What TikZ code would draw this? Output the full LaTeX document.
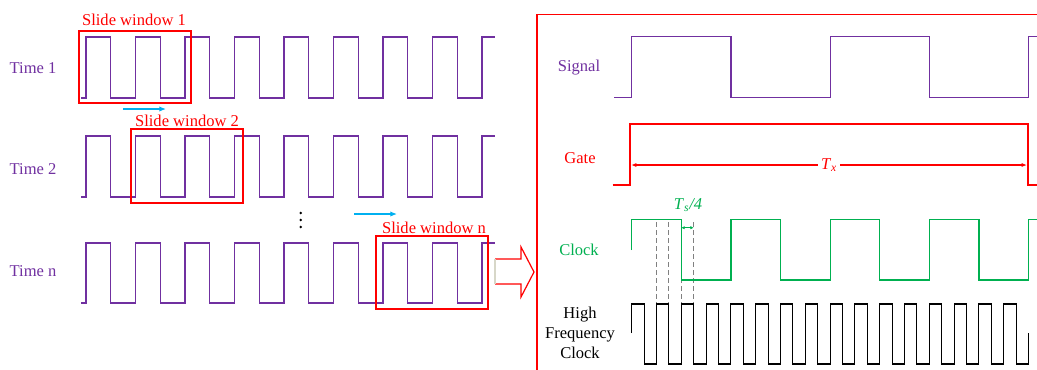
\documentclass[tikz,border=0pt]{standalone}
\usepackage{fontspec}
\setmainfont{Liberation Serif}
\usetikzlibrary{arrows.meta}
\definecolor{wpurple}{RGB}{112,48,160}
\definecolor{wred}{RGB}{255,0,0}
\definecolor{wgreen}{RGB}{0,176,80}
\definecolor{wblue}{RGB}{0,176,240}
\definecolor{wgray}{RGB}{128,128,128}
\definecolor{wbeige}{RGB}{215,215,200}
\tikzset{
  wave/.style={line width=0.9pt, line join=miter},
  lbl/.style={font=\fontsize{12.4}{15}\selectfont, inner sep=1pt, align=center},
  winbox/.style={draw=wred, line width=0.9pt},
  shiftarrow/.style={wblue, line width=0.9pt, -{Latex[length=5pt,width=4pt]}},
  dimarrow/.style={line width=0.8pt, {Latex[length=4pt,width=3pt]}-{Latex[length=4pt,width=3pt]}},
  guide/.style={wgray, line width=0.8pt, dash pattern=on 4pt off 2pt},
}
\begin{document}
\begin{tikzpicture}[x=0.75pt,y=-0.75pt]
\useasboundingbox (0,0) rectangle (1037,369);

% ---------- left panel ----------
\node[lbl, text=wpurple] (t1) at (33,68) {Time 1};
\node[lbl, text=wpurple] (t2) at (33,169) {Time 2};
\node[lbl, text=wpurple] (tn) at (33,271) {Time n};

\draw[wave, wpurple] (81,98) -- (86,98)
  foreach \k in {1,...,8} { -- ++(0,-61) -- ++(24.75,0) -- ++(0,61) -- ++(24.75,0) }
  -- ++(0,-61) -- (495,37);
\draw[wave, wpurple] (81,197) -- (86,197)
  foreach \k in {1,...,8} { -- ++(0,-61) -- ++(24.75,0) -- ++(0,61) -- ++(24.75,0) }
  -- ++(0,-61) -- (495,136);
\draw[wave, wpurple] (81,303) -- (86,303)
  foreach \k in {1,...,8} { -- ++(0,-60) -- ++(24.75,0) -- ++(0,60) -- ++(24.75,0) }
  -- ++(0,-60) -- (495,243);

\draw[winbox] (79,31) rectangle (191,103);
\node[lbl, text=wred] (sw1) at (134,20) {Slide window 1};
\draw[winbox] (131,129) rectangle (243,203);
\node[lbl, text=wred] (sw2) at (187,121) {Slide window 2};
\draw[winbox] (376,236) rectangle (488,309);
\node[lbl, text=wred] (swn) at (434,228) {Slide window n};

\coordinate (a1s) at (123,109); \coordinate (a1e) at (166,109);
\coordinate (a2s) at (354,214); \coordinate (a2e) at (397,214);
\draw[shiftarrow] (a1s) -- (a1e);
\draw[shiftarrow] (a2s) -- (a2e);

\foreach \yy in {213,220,227} \fill (300.7,\yy) circle (1.4);

% big outline arrow
\fill[white] (495,259) -- (521,259) -- (521,247) -- (534,272) -- (521,297) -- (521,284) -- (495,284) -- cycle;
\draw[wred, line width=0.9pt] (495,259) -- (521,259) -- (521,247) -- (534,272) -- (521,297) -- (521,284) -- (495,284);
\draw[wbeige, line width=1.2pt] (495,259) -- (495,284);

% ---------- right panel ----------
\draw[wred, line width=0.9pt] (537,372) -- (537,14.3) -- (1040,14.3);

\node[lbl, text=wpurple] (sig) at (579,68) {Signal};
\node[lbl, text=wred] (gate) at (580,158) {Gate};
\node[lbl, text=wgreen] (clk) at (579,250) {Clock};
\node[lbl, text=black] (hf) at (580,333) {High\\Frequency\\Clock};

% signal
\draw[wave, wpurple] (614,97.3) -- (631.7,97.3) -- (631.7,36.7) -- (730.9,36.7) -- (730.9,97.3)
  -- (830.1,97.3) -- (830.1,36.7) -- (929.3,36.7) -- (929.3,97.3) -- (1028.5,97.3) -- (1028.5,36.7) -- (1040,36.7);

% gate
\draw[wave, wred] (612.7,185) -- (630,185) -- (630,124) -- (1028,124) -- (1028,185) -- (1040,185);
\coordinate (gl) at (631,165); \coordinate (gr) at (1027,165);
\draw[dimarrow, wred] (gl) -- (gr)
  node[pos=0.5, fill=white, text=wred, lbl, inner sep=2pt] (tx) {\textit{T}\textsubscript{\textit{x}}};

% dashed guides
\foreach \xx in {656.5,668.9,681.3,693.7} \draw[guide] (\xx,222) -- (\xx,303);

% clock
\draw[wave, wgreen] (631.7,250) -- (631.7,219.5) -- (681.3,219.5) -- (681.3,280) -- (730.9,280) -- (730.9,219.5)
  -- (780.5,219.5) -- (780.5,280) -- (830.1,280) -- (830.1,219.5) -- (879.7,219.5) -- (879.7,280)
  -- (929.3,280) -- (929.3,219.5) -- (978.9,219.5) -- (978.9,280) -- (1028.5,280) -- (1028.5,219.5) -- (1040,219.5);

% Ts/4
\coordinate (ql) at (681.3,227.7); \coordinate (qr) at (693.7,227.7);
\draw[wgreen, line width=0.7pt, {Latex[length=2.5pt,width=2.5pt]}-{Latex[length=2.5pt,width=2.5pt]}] (ql) -- (qr);
\node[lbl, text=wgreen] (ts) at (688,205) {\textit{T}\textsubscript{\textit{s}}\textit{/4}};

% high frequency clock
\draw[wave, black, line width=0.8pt] (631.7,333) -- (631.7,304)
  foreach \k in {1,...,15} { -- ++(12.4,0) -- ++(0,60) -- ++(12.4,0) -- ++(0,-60) }
  -- ++(12.4,0) -- ++(0,60) -- ++(12.4,0) -- ++(0,-31);
\end{tikzpicture}
\end{document}
